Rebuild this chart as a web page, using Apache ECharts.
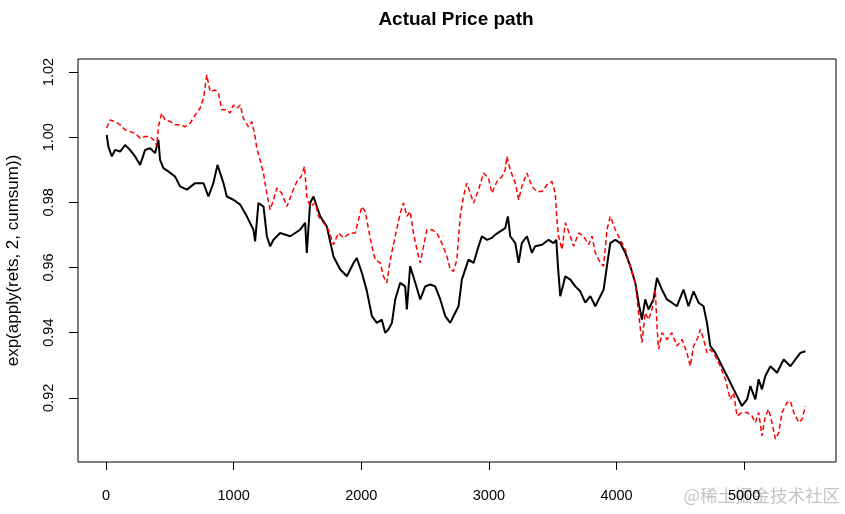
<!DOCTYPE html>
<html>
<head>
<meta charset="utf-8">
<script src="https://cdn.jsdelivr.net/npm/echarts@6/dist/echarts.min.js"></script>
<style>
html,body{margin:0;padding:0;background:#fff;}
#chart{width:845px;height:514px;}
</style>
</head>
<body>
<div id="chart"></div>
<script>
const titleText = 'Actual Price path';
const yAxisTitle = 'exp(apply(rets, 2, cumsum))';
const xTicks = [0, 1000, 2000, 3000, 4000, 5000];
const yTicks = [0.92, 0.94, 0.96, 0.98, 1.00, 1.02];

const blackIdx = [5,18,45,71,110,149,188,227,267,306,345,384,410,423,449,488,541,580,633,698,763,802,841,873,920,946,998,1051,1103,1155,1168,1194,1234,1260,1286,1312,1364,1443,1521,1560,1573,1599,1625,1678,1730,1782,1835,1887,1939,1965,2005,2043,2083,2122,2161,2187,2213,2240,2266,2305,2344,2357,2383,2423,2462,2501,2540,2579,2619,2658,2697,2723,2762,2788,2840,2880,2919,2945,2985,3024,3050,3089,3128,3149,3167,3207,3233,3258,3298,3337,3363,3416,3468,3507,3528,3541,3559,3599,3638,3677,3716,3755,3795,3834,3873,3899,3925,3951,3991,4030,4069,4108,4147,4173,4199,4225,4251,4290,4317,4356,4395,4434,4473,4525,4564,4604,4643,4682,4709,4735,4775,4827,4879,4918,4944,4983,5023,5049,5088,5114,5140,5166,5206,5258,5310,5363,5402,5441,5480];
const blackVal = [1.0007,0.9971,0.9941,0.9961,0.9956,0.9976,0.9961,0.9941,0.9915,0.9961,0.9966,0.9951,0.9992,0.9930,0.9905,0.9895,0.9879,0.9849,0.9839,0.9859,0.9859,0.9818,0.9859,0.9915,0.9859,0.9818,0.9808,0.9793,0.9757,0.9716,0.9680,0.9798,0.9787,0.9696,0.9665,0.9685,0.9706,0.9696,0.9716,0.9737,0.9645,0.9798,0.9818,0.9757,0.9726,0.9634,0.9594,0.9573,0.9614,0.9629,0.9583,0.9529,0.9451,0.9430,0.9440,0.9400,0.9410,0.9430,0.9502,0.9553,0.9542,0.9471,0.9604,0.9553,0.9502,0.9542,0.9548,0.9542,0.9502,0.9451,0.9430,0.9451,0.9481,0.9563,0.9624,0.9614,0.9665,0.9696,0.9685,0.9691,0.9701,0.9711,0.9721,0.9757,0.9696,0.9675,0.9614,0.9675,0.9696,0.9645,0.9665,0.9670,0.9685,0.9675,0.9685,0.9604,0.9512,0.9573,0.9563,0.9542,0.9527,0.9492,0.9512,0.9481,0.9512,0.9532,0.9604,0.9675,0.9685,0.9675,0.9645,0.9604,0.9553,0.9492,0.9440,0.9502,0.9471,0.9502,0.9568,0.9532,0.9502,0.9492,0.9481,0.9532,0.9481,0.9527,0.9492,0.9481,0.9430,0.9359,0.9338,0.9297,0.9257,0.9226,0.9206,0.9175,0.9195,0.9236,0.9195,0.9257,0.9226,0.9267,0.9297,0.9277,0.9318,0.9297,0.9318,0.9338,0.9343];

const redIdx = [5,31,71,110,149,188,227,267,306,345,384,397,410,436,462,502,541,580,619,659,698,737,763,789,815,855,881,907,946,972,998,1024,1051,1076,1116,1142,1168,1181,1207,1233,1259,1286,1312,1338,1377,1417,1456,1495,1529,1555,1573,1599,1639,1665,1704,1743,1782,1821,1860,1913,1952,1978,2005,2031,2057,2083,2109,2148,2174,2200,2227,2266,2305,2331,2357,2383,2409,2436,2462,2488,2514,2553,2592,2631,2671,2697,2723,2749,2775,2801,2827,2854,2880,2919,2958,2997,3024,3063,3102,3128,3141,3167,3207,3233,3258,3298,3337,3376,3416,3455,3494,3520,3533,3546,3573,3599,3638,3664,3703,3742,3781,3808,3834,3873,3899,3925,3951,3991,4030,4069,4108,4147,4173,4199,4225,4251,4278,4304,4317,4330,4356,4395,4434,4473,4513,4552,4578,4604,4643,4657,4683,4709,4735,4775,4814,4853,4892,4918,4944,4983,5023,5062,5088,5114,5140,5166,5192,5218,5245,5271,5297,5336,5363,5389,5428,5454,5480];
const redVal = [1.0028,1.0053,1.0048,1.0038,1.0022,1.0017,1.0012,0.9997,1.0002,1.0002,0.9987,0.9971,1.0032,1.0074,1.0053,1.0048,1.0038,1.0038,1.0032,1.0043,1.0068,1.0089,1.0119,1.0191,1.0140,1.0145,1.0135,1.0084,1.0084,1.0074,1.0099,1.0089,1.0099,1.0058,1.0032,1.0048,1.0002,0.9966,0.9930,0.9890,0.9828,0.9777,0.9808,0.9844,0.9828,0.9787,0.9828,0.9864,0.9879,0.9910,0.9818,0.9787,0.9798,0.9757,0.9737,0.9716,0.9670,0.9706,0.9691,0.9706,0.9706,0.9747,0.9787,0.9772,0.9716,0.9665,0.9624,0.9614,0.9573,0.9553,0.9624,0.9696,0.9767,0.9798,0.9757,0.9772,0.9706,0.9655,0.9614,0.9665,0.9716,0.9716,0.9706,0.9675,0.9634,0.9594,0.9588,0.9624,0.9757,0.9818,0.9859,0.9828,0.9798,0.9839,0.9890,0.9874,0.9828,0.9864,0.9879,0.9900,0.9941,0.9900,0.9859,0.9808,0.9849,0.9890,0.9849,0.9833,0.9833,0.9854,0.9864,0.9828,0.9747,0.9696,0.9655,0.9737,0.9696,0.9665,0.9706,0.9696,0.9670,0.9696,0.9645,0.9614,0.9604,0.9716,0.9757,0.9716,0.9685,0.9655,0.9604,0.9553,0.9461,0.9369,0.9461,0.9440,0.9471,0.9532,0.9420,0.9349,0.9400,0.9379,0.9400,0.9359,0.9379,0.9338,0.9297,0.9359,0.9389,0.9410,0.9379,0.9338,0.9349,0.9328,0.9297,0.9257,0.9195,0.9216,0.9144,0.9155,0.9155,0.9144,0.9124,0.9155,0.9083,0.9144,0.9165,0.9124,0.9073,0.9093,0.9155,0.9185,0.9190,0.9155,0.9124,0.9134,0.9175];

const blackData = blackIdx.map((x, i) => [x, blackVal[i]]);
const redData = redIdx.map((x, i) => [x, redVal[i]]);

const FONT = '"Liberation Sans", Arial, Helvetica, sans-serif';
const chart = echarts.init(document.getElementById('chart'), null, {renderer: 'canvas'});
chart.setOption({
  animation: false,
  backgroundColor: '#ffffff',
  title: {
    text: titleText,
    left: 456, top: 10, padding: 0, textAlign: 'center',
    textStyle: {fontFamily: FONT, fontWeight: 'bold', fontSize: 19, color: '#000'}
  },
  grid: {
    left: 78, right: 9, top: 59, bottom: 52,
    outerBoundsMode: 'none', containLabel: false,
    show: true, borderColor: '#000', borderWidth: 1, backgroundColor: 'transparent'
  },
  xAxis: {
    type: 'value', min: -220, max: 5720,
    axisLine: {show: false, onZero: false},
    splitLine: {show: false},
    axisTick: {show: true, length: 8, lineStyle: {color: '#000'}, customValues: xTicks},
    axisLabel: {show: true, margin: 26, color: '#000', fontFamily: FONT, fontSize: 14.5, customValues: xTicks,
      formatter: v => String(v)}
  },
  yAxis: {
    type: 'value', min: 0.9003, max: 1.024,
    name: yAxisTitle, nameLocation: 'middle', nameGap: 56, nameRotate: 90,
    nameTextStyle: {fontFamily: FONT, fontSize: 17, color: '#000'},
    axisLine: {show: false, onZero: false},
    splitLine: {show: false},
    axisTick: {show: true, length: 9, lineStyle: {color: '#000'}, customValues: yTicks},
    axisLabel: {show: true, rotate: 90, margin: 22, color: '#000', fontFamily: FONT, fontSize: 14.5, customValues: yTicks,
      formatter: v => v.toFixed(2)}
  },
  series: [
    {type: 'line', data: blackData, showSymbol: false, lineStyle: {color: '#000', width: 2}, z: 2},
    {type: 'line', data: redData, showSymbol: false, lineStyle: {color: '#ff0000', width: 1.5, type: [5, 3]}, z: 3}
  ],
  graphic: [{
    type: 'text', right: 5, top: 487,
    style: {text: '@稀土掘金技术社区', font: '17.5px "Noto Sans CJK SC"', fill: 'rgba(190,190,190,0.9)'}
  }]
});
</script>
</body>
</html>
